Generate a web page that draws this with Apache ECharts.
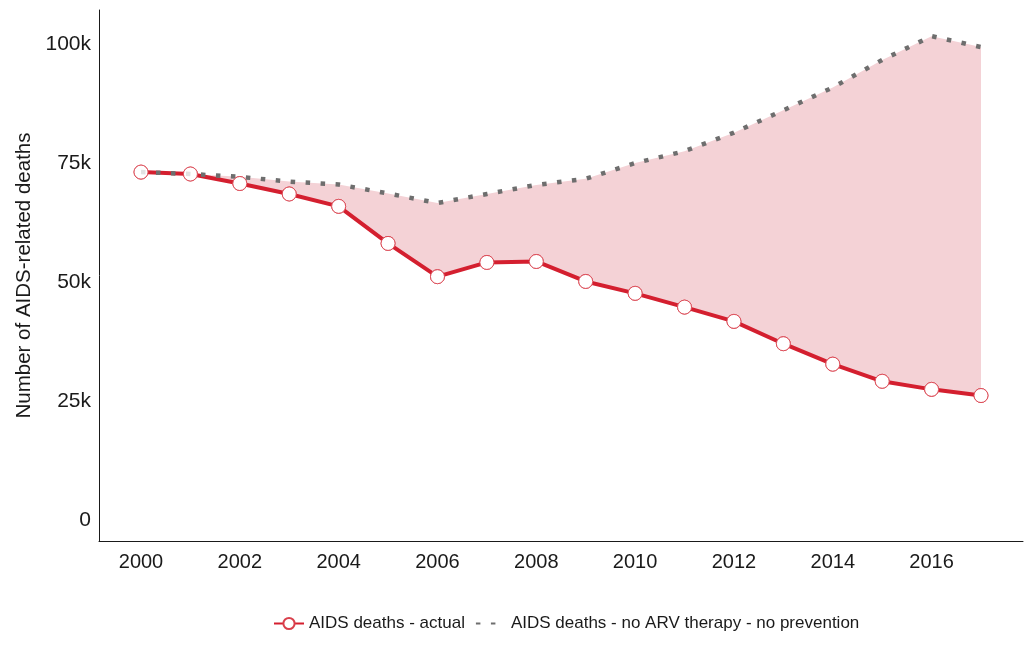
<!DOCTYPE html>
<html>
<head>
<meta charset="utf-8">
<script src="https://cdn.jsdelivr.net/npm/echarts@6/dist/echarts.min.js"></script>
<style>
  html, body { margin: 0; padding: 0; background: #fff; }
  #chart { width: 1033px; height: 652px; }
</style>
</head>
<body>
<div id="chart"></div>
<script>
// years on the x axis
var years = [2000, 2001, 2002, 2003, 2004, 2005, 2006, 2007, 2008,
             2009, 2010, 2011, 2012, 2013, 2014, 2015, 2016, 2017];
// AIDS deaths, actual
var actual = [73200, 72800, 70800, 68600, 66000, 58200, 51200, 54200, 54400,
              50200, 47700, 44800, 41800, 37100, 32800, 29200, 27500, 26200];
// AIDS deaths if no ARV therapy and no prevention
var noArv = [73200, 72800, 72200, 71200, 70600, 68700, 66700, 68600, 70500,
             71800, 75100, 77600, 81500, 86200, 91000, 96800, 101800, 99500];
var xTicks = [2000, 2002, 2004, 2006, 2008, 2010, 2012, 2014, 2016];
var yTicks = [0, 25000, 50000, 75000, 100000];

var pair = function (ys) {
  return years.map(function (y, i) { return [y, ys[i]]; });
};

var myChart = echarts.init(document.getElementById('chart'));
var font = 'Liberation Sans, Arial, sans-serif';
var markerStyle = { color: '#ffffff', borderColor: '#d9404c', borderWidth: 1 };

myChart.setOption({
  animation: false,
  textStyle: { fontFamily: font },
  grid: { left: 99, right: 10, top: 10, bottom: 111 },
  legend: {
    bottom: 15,
    left: 268,
    itemGap: 10,
    itemWidth: 30,
    itemHeight: 14,
    textStyle: { fontSize: 17, color: '#1a1a1a', fontFamily: font },
    data: [
      { name: 'AIDS deaths - actual' },
      { name: 'AIDS deaths - no ARV therapy - no prevention', itemStyle: { opacity: 0 } }
    ]
  },
  xAxis: {
    type: 'value',
    min: 1999.15,
    max: 2017.85,
    z: 10,
    splitLine: { show: false },
    axisLine: { onZero: false, lineStyle: { color: '#1a1a1a', width: 1 } },
    axisTick: { show: false },
    axisLabel: {
      customValues: xTicks,
      fontSize: 20,
      color: '#1a1a1a',
      margin: 11,
      formatter: function (v) { return String(v); }
    }
  },
  yAxis: {
    type: 'value',
    min: -4400,
    max: 107300,
    z: 10,
    name: 'Number of AIDS-related deaths',
    nameLocation: 'middle',
    nameRotate: 90,
    nameGap: 60,
    nameTextStyle: { fontSize: 20.5, color: '#1a1a1a' },
    splitLine: { show: false },
    axisLine: { show: true, onZero: false, lineStyle: { color: '#1a1a1a', width: 1 } },
    axisTick: { show: false },
    axisLabel: {
      customValues: yTicks,
      fontSize: 21,
      color: '#1a1a1a',
      margin: 8,
      formatter: function (v) { return v === 0 ? '0' : (v / 1000) + 'k'; }
    }
  },
  series: [
    {
      // pink area under the no-ARV curve
      name: 'fillTop',
      type: 'line',
      data: pair(noArv),
      symbol: 'none',
      lineStyle: { opacity: 0 },
      areaStyle: { color: '#f4d2d6', opacity: 1 },
      silent: true,
      z: 1
    },
    {
      // white mask under the actual curve, leaves the band between them
      name: 'fillBottom',
      type: 'line',
      data: pair(actual),
      symbol: 'none',
      lineStyle: { opacity: 0 },
      areaStyle: { color: '#ffffff', opacity: 1 },
      silent: true,
      z: 1
    },
    {
      name: 'AIDS deaths - actual',
      type: 'line',
      data: pair(actual),
      symbol: 'circle',
      symbolSize: 14,
      lineStyle: { color: '#d41f2f', width: 4 },
      itemStyle: markerStyle,
      z: 2
    },
    {
      name: 'AIDS deaths - no ARV therapy - no prevention',
      type: 'line',
      data: pair(noArv),
      symbol: 'none',
      lineStyle: { color: '#6e6e6e', width: 4.5, type: [4.5, 10.5], cap: 'butt' },
      itemStyle: { color: '#6e6e6e' },
      z: 3
    },
    {
      // markers redrawn on top of the dotted line
      name: 'markers',
      type: 'scatter',
      data: pair(actual),
      symbol: 'circle',
      symbolSize: 14,
      itemStyle: markerStyle,
      silent: true,
      z: 4
    }
  ]
});
</script>
</body>
</html>
